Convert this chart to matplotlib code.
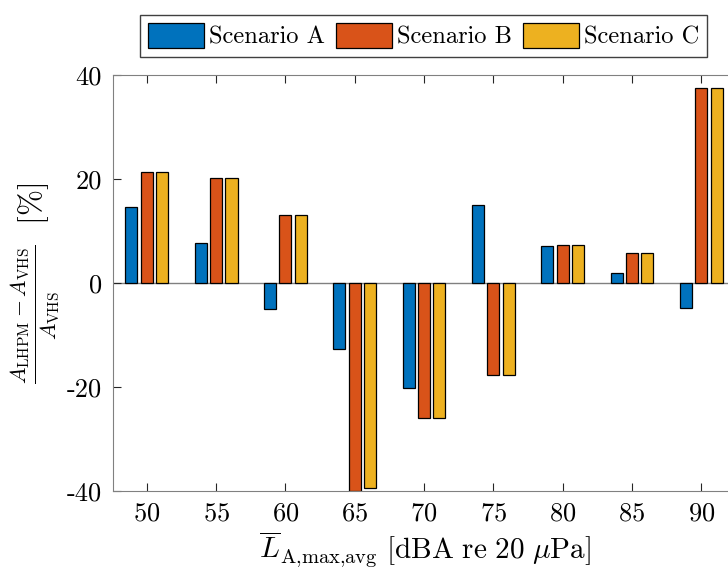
import numpy as np
import matplotlib
matplotlib.use('Agg')
import matplotlib.pyplot as plt

plt.rcParams['font.family'] = 'serif'
plt.rcParams['font.serif'] = ['cmr10']
plt.rcParams['mathtext.fontset'] = 'cm'
plt.rcParams['axes.unicode_minus'] = False
plt.rcParams['axes.formatter.use_mathtext'] = True

levels = [50, 55, 60, 65, 70, 75, 80, 85, 90]
scen_a = [14.7, 7.7, -4.9, -12.7, -20.2, 15.0, 7.1, 2.0, -4.7]
scen_b = [21.4, 20.2, 13.1, -40.0, -26.0, -17.6, 7.3, 5.8, 37.6]
scen_c = [21.4, 20.2, 13.1, -39.4, -25.9, -17.6, 7.3, 5.8, 37.6]
names = ['Scenario A', 'Scenario B', 'Scenario C']
colors = ['#0072BD', '#D95319', '#EDB120']

fig = plt.figure(figsize=(7.28, 5.69), dpi=100)
ax = fig.add_axes([0.155, 0.137, 0.856, 0.731])

x = np.array(levels, dtype=float)
step = 1.11
width = 0.87
for i, (vals, name, c) in enumerate(zip([scen_a, scen_b, scen_c], names, colors)):
    ax.bar(x + (i - 1) * step, vals, width, color=c, edgecolor='black',
           linewidth=0.9, label=name, zorder=2)

ax.axhline(0, color='#808080', linewidth=1.0, zorder=1)

ax.set_xlim(47.55, 92.5)
ax.set_ylim(-40, 40)
ax.set_xticks(levels)
ax.set_yticks([-40, -20, 0, 20, 40])
ax.set_yticklabels(['-40', '-20', '0', '20', '40'])
ax.tick_params(direction='in', length=6, width=0.8, labelsize=19,
               top=True, color='#262626', pad=8)
for side in ['left', 'top', 'bottom']:
    ax.spines[side].set_color('#808080')
ax.spines['right'].set_visible(False)

ax.set_xlabel(r'$\overline{L}_{\mathrm{A{,}max{,}avg}}\ [\mathrm{dBA\ re\ 20}\ \mu\mathrm{Pa}]$',
              fontsize=21, labelpad=2)
ax.set_ylabel(r'$\frac{A_{\mathrm{LHPM}}-A_{\mathrm{VHS}}}{A_{\mathrm{VHS}}}\ \ [\%]$',
              fontsize=22.5, labelpad=3)

fig.legend(loc='center', bbox_to_anchor=(0.582, 0.937), ncol=3, fontsize=17.6,
           frameon=True, fancybox=False, edgecolor='#404040', framealpha=1,
           handlelength=2.3, handleheight=1.2, handletextpad=0.2,
           columnspacing=0.45, borderpad=0.32, borderaxespad=0)

fig.savefig('out.png', dpi=100)
